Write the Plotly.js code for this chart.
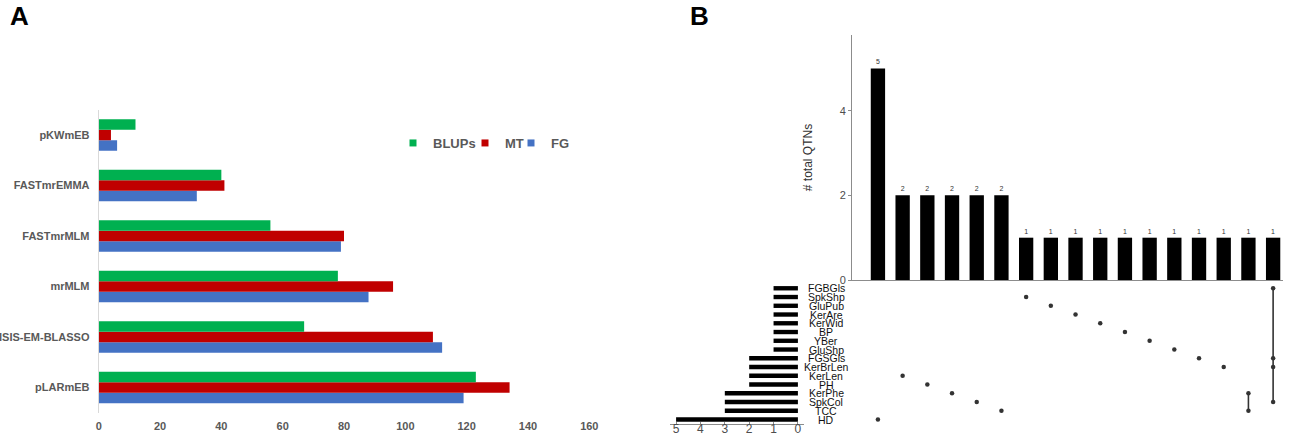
<!DOCTYPE html>
<html>
<head>
<meta charset="utf-8">
<script src="https://cdn.plot.ly/plotly-3.0.1.min.js"></script>
<style>
  html, body { margin: 0; padding: 0; background: #fff; }
  #chart { width: 1297px; height: 435px; }
</style>
</head>
<body>
<div id="chart"></div>
<script>
// panel A: QTNs detected per method
const methods = ['pKWmEB', 'FASTmrEMMA', 'FASTmrMLM', 'mrMLM', 'ISIS-EM-BLASSO', 'pLARmEB'];
const blups = [12, 40, 56, 78, 67, 123];
const mt = [4, 41, 80, 96, 109, 134];
const fg = [6, 32, 79, 88, 112, 119];
const methodTicks = [0, 20, 40, 60, 80, 100, 120, 140, 160];

// panel B: upset plot of traits
const setNames = ['HD', 'TCC', 'SpkCol', 'KerPhe', 'PH', 'KerLen', 'KerBrLen', 'FGSGls',
                  'GluShp', 'YBer', 'BP', 'KerWid', 'KerAre', 'GluPub', 'SpkShp', 'FGBGls'];
const setSizes = [5, 3, 3, 3, 2, 2, 2, 2, 1, 1, 1, 1, 1, 1, 1, 1];
const combos = [['HD'], ['KerLen'], ['PH'], ['KerPhe'], ['SpkCol'], ['TCC'], ['SpkShp'],
                ['GluPub'], ['KerAre'], ['KerWid'], ['BP'], ['YBer'], ['GluShp'], ['FGSGls'],
                ['KerBrLen'], ['KerPhe', 'TCC'], ['FGBGls', 'FGSGls', 'KerBrLen', 'SpkCol']];
const comboCounts = [5, 2, 2, 2, 2, 2, 1, 1, 1, 1, 1, 1, 1, 1, 1, 1, 1];

const W = 1297, H = 435;
const px = v => v / W;
const py = v => 1 - v / H;

const green = '#00b050', red = '#c00000', blue = '#4472c4';
const grayTxt = '#595959';
const dark = '#333333';

let data = [];

// grouped horizontal bars, FG first so it sits lowest in each group
[['FG', fg, blue], ['MT', mt, red], ['BLUPs', blups, green]].forEach(function (s) {
    data.push({
        type: 'bar', orientation: 'h', name: s[0],
        x: s[1], y: methods,
        marker: { color: s[2] },
        xaxis: 'x', yaxis: 'y',
        showlegend: false, legendgroup: s[0],
        hoverinfo: 'x+name'
    });
});
// small square keys, one legend box each so they can sit close together
[['BLUPs', green, 'legend'], ['MT', red, 'legend2'], ['FG', blue, 'legend3']].forEach(function (s) {
    data.push({
        type: 'scatter', mode: 'markers', name: s[0],
        x: [null], y: [null],
        marker: { symbol: 'square', size: 7, color: s[1] },
        xaxis: 'x', yaxis: 'y',
        legendgroup: s[0], legend: s[2]
    });
});

// intersection sizes
let comboIdx = comboCounts.map((c, i) => i);
data.push({
    type: 'bar', x: comboIdx, y: comboCounts,
    text: comboCounts.map(String), textposition: 'outside',
    textfont: { size: 7, color: dark, family: 'Liberation Sans, Arial' },
    cliponaxis: false,
    marker: { color: '#000' }, width: 0.58,
    xaxis: 'x2', yaxis: 'y2', showlegend: false
});

// matrix dots and connecting lines
let dotX = [], dotY = [];
combos.forEach(function (c, i) {
    let rows = c.map(n => setNames.indexOf(n));
    rows.forEach(function (r) { dotX.push(i); dotY.push(r); });
    if (rows.length > 1) {
        data.push({
            type: 'scatter', mode: 'lines',
            x: [i, i], y: [Math.min(...rows), Math.max(...rows)],
            line: { color: dark, width: 1.6 },
            xaxis: 'x3', yaxis: 'y3', showlegend: false, hoverinfo: 'skip'
        });
    }
});
data.push({
    type: 'scatter', mode: 'markers', x: dotX, y: dotY,
    marker: { color: dark, size: 4.5 },
    xaxis: 'x3', yaxis: 'y3', showlegend: false
});

// set sizes
data.push({
    type: 'bar', orientation: 'h',
    x: setSizes, y: setNames.map((n, i) => i),
    marker: { color: '#000' }, width: 0.5,
    xaxis: 'x4', yaxis: 'y4', showlegend: false
});

let annotations = [
    { text: '<b>A</b>', x: px(8), y: py(16), xref: 'paper', yref: 'paper', xanchor: 'left', yanchor: 'middle',
      showarrow: false, font: { size: 26, color: '#000', family: 'Liberation Sans, Arial' } },
    { text: '<b>B</b>', x: px(688), y: py(16), xref: 'paper', yref: 'paper', xanchor: 'left', yanchor: 'middle',
      showarrow: false, font: { size: 26, color: '#000', family: 'Liberation Sans, Arial' } }
];
setNames.forEach(function (n, i) {
    annotations.push({
        text: n, x: px(826), y: i, xref: 'paper', yref: 'y4',
        xanchor: 'center', yanchor: 'middle', showarrow: false,
        font: { size: 10.5, color: '#111', family: 'Liberation Sans, Arial' }
    });
});

const rangeLeft = -1.05, rangeRight = 16.4;

function legendAt(x) {
    return {
        orientation: 'h', x: px(x), y: py(143), xanchor: 'left', yanchor: 'middle',
        font: { size: 13, color: grayTxt, family: 'Liberation Sans, Arial', weight: 'bold' },
        itemwidth: 30, bgcolor: 'rgba(0,0,0,0)'
    };
}

let layout = {
    width: W, height: H,
    margin: { l: 0, r: 0, t: 0, b: 0 },
    paper_bgcolor: '#fff', plot_bgcolor: 'rgba(0,0,0,0)',
    font: { family: 'Liberation Sans, Arial', color: grayTxt },
    barmode: 'group', bargap: 0.38, bargroupgap: 0,
    showlegend: true,
    legend: legendAt(393),
    legend2: legendAt(465),
    legend3: legendAt(511),
    xaxis: {
        domain: [px(98.7), px(589.3)], range: [0, 160], anchor: 'y',
        tickvals: methodTicks, showgrid: false, zeroline: false, showline: false,
        ticks: '', ticklabelstandoff: 5,
        tickfont: { size: 11, color: grayTxt, weight: 'bold' }
    },
    yaxis: {
        domain: [py(412.75), py(109.75)], anchor: 'x',
        type: 'category', categoryorder: 'array', categoryarray: methods.slice().reverse(),
        showgrid: false, zeroline: false, showline: true, linecolor: '#d9d9d9', linewidth: 1,
        ticks: '', ticklabelstandoff: 6,
        tickfont: { size: 11, color: grayTxt, weight: 'bold' }
    },
    xaxis2: {
        domain: [px(852), px(1283)], range: [rangeLeft, rangeRight], anchor: 'y2',
        showticklabels: false, ticks: '', showgrid: false, zeroline: false,
        showline: true, linecolor: '#8c8c8c', linewidth: 1
    },
    yaxis2: {
        domain: [py(280), py(35)], range: [0, 5.79], anchor: 'x2',
        tickvals: [0, 2, 4], showgrid: false, zeroline: false,
        showline: true, linecolor: '#8c8c8c', linewidth: 1,
        ticks: 'outside', ticklen: 3, tickcolor: '#8c8c8c',
        tickfont: { size: 11, color: '#4d4d4d' },
        title: { text: '# total QTNs', standoff: 24, font: { size: 12, color: dark } }
    },
    xaxis3: {
        domain: [px(852), px(1283)], range: [rangeLeft, rangeRight], anchor: 'y3',
        visible: false
    },
    yaxis3: {
        domain: [py(423.9), py(283.9)], range: [-0.5, 15.5], anchor: 'x3',
        visible: false
    },
    xaxis4: {
        domain: [px(670), px(804)], range: [5.25, -0.25], anchor: 'y4',
        tickvals: [0, 1, 2, 3, 4, 5], showgrid: false, zeroline: false,
        showline: true, linecolor: '#8c8c8c', linewidth: 1,
        ticks: 'inside', ticklen: 2, tickcolor: '#8c8c8c', ticklabelstandoff: -6,
        tickfont: { size: 12, color: '#4d4d4d' }
    },
    yaxis4: {
        domain: [py(423.9), py(283.9)], range: [-0.5, 15.5], anchor: 'x4',
        visible: false
    },
    annotations: annotations
};

Plotly.newPlot('chart', data, layout, { displayModeBar: false, staticPlot: true });
</script>
</body>
</html>
